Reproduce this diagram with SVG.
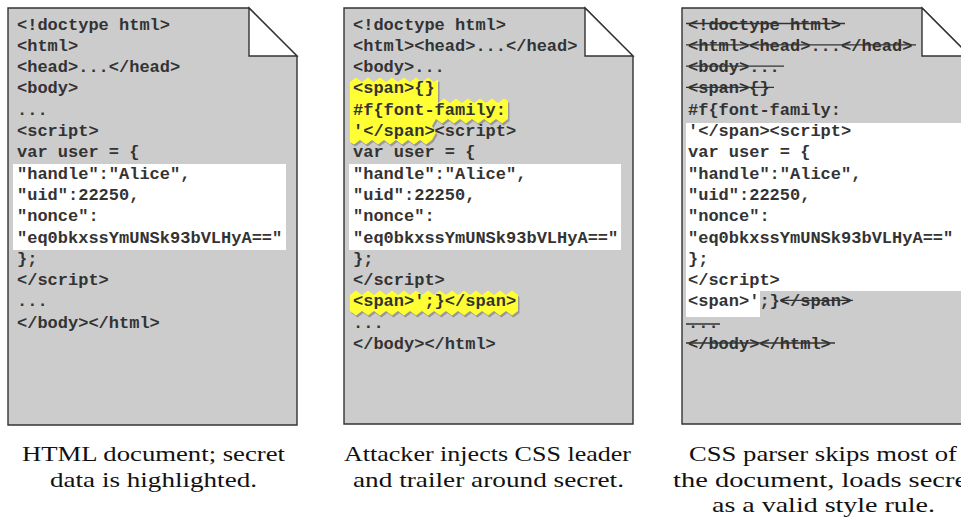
<svg xmlns="http://www.w3.org/2000/svg" width="961" height="520" viewBox="0 0 961 520">
<style>
.page{fill:#cccccc;stroke:#333;stroke-width:1.4}
.fold{fill:#ffffff;stroke:#333;stroke-width:1.4;stroke-linejoin:miter}
.code{font-family:"Liberation Mono","Courier New",monospace;font-weight:bold;font-size:17px;fill:#333}
.sec{fill:#ffffff}
.hl{fill:#ffff33}
.sh{fill:#999999}
.strike{stroke:#333;stroke-width:1.3}
.cap{font-family:"Liberation Serif","Times New Roman",serif;font-size:21px;fill:#111;text-anchor:middle}
</style>
<defs>
<path id="hlA" d="M350,82 L356,77.5 L362,82 L368,77.5 L374,82 L380,77.5 L386,82 L392,77.5 L398,82 L404,77.5 L410,82 L416,77.5 L422,82 L428,77.5 L434,82 L438,79.5 L438,103 L444,98.5 L450,103 L456,98.5 L462,103 L468,98.5 L474,103 L480,98.5 L486,103 L492,98.5 L498,103 L504,98.5 L508,101 L508,119 L502,123.5 L496,119 L490,123.5 L484,119 L478,123.5 L472,119 L466,123.5 L460,119 L454,123.5 L448,119 L442,123.5 L436,119 L432,126 L436,133 L432,140 L426,144.5 L420,140 L414,144.5 L408,140 L402,144.5 L396,140 L390,144.5 L384,140 L378,144.5 L372,140 L366,144.5 L360,140 L354,144.5 L350,142 Z"/>
<path id="hlB" d="M350,295 L356,290.5 L362,295 L368,290.5 L374,295 L380,290.5 L386,295 L392,290.5 L398,295 L404,290.5 L410,295 L416,290.5 L422,295 L428,290.5 L434,295 L440,290.5 L446,295 L452,290.5 L458,295 L464,290.5 L470,295 L476,290.5 L482,295 L488,290.5 L494,295 L500,290.5 L506,295 L512,290.5 L518,295 L518,311 L512,315.5 L506,311 L500,315.5 L494,311 L488,315.5 L482,311 L476,315.5 L470,311 L464,315.5 L458,311 L452,315.5 L446,311 L440,315.5 L434,311 L428,315.5 L422,311 L416,315.5 L410,311 L404,315.5 L398,311 L392,315.5 L386,311 L380,315.5 L374,311 L368,315.5 L362,311 L356,315.5 L350,311 Z"/>
</defs>
<rect width="961" height="520" fill="#ffffff"/>

<g id="doc1">
<path class="page" d="M8,8 H249 L297,56 V425 H8 Z"/>
<path class="fold" d="M249,8 V56 H297 Z"/>
<rect class="sec" x="13" y="164" width="273" height="86"/>
<g class="code">
<text x="17" y="29.5">&lt;!doctype html&gt;</text>
<text x="17" y="50.8">&lt;html&gt;</text>
<text x="17" y="72.1">&lt;head&gt;...&lt;/head&gt;</text>
<text x="17" y="93.4">&lt;body&gt;</text>
<text x="17" y="114.7">...</text>
<text x="17" y="136">&lt;script&gt;</text>
<text x="17" y="157.3">var user = {</text>
<text x="17" y="178.6">"handle":"Alice",</text>
<text x="17" y="199.9">"uid":22250,</text>
<text x="17" y="221.2">"nonce":</text>
<text x="17" y="242.5">"eq0bkxssYmUNSk93bVLHyA=="</text>
<text x="17" y="263.8">};</text>
<text x="17" y="285.1">&lt;/script&gt;</text>
<text x="17" y="306.4">...</text>
<text x="17" y="327.7">&lt;/body&gt;&lt;/html&gt;</text>
</g>
<text class="cap" x="153.5" y="461" textLength="263" lengthAdjust="spacingAndGlyphs">HTML document; secret</text>
<text class="cap" x="153.5" y="487" textLength="207" lengthAdjust="spacingAndGlyphs">data is highlighted.</text>
</g>

<g id="doc2">
<path class="page" d="M344,8 H585 L633,56 V424 H344 Z"/>
<path class="fold" d="M585,8 V56 H633 Z"/>
<rect class="sec" x="349" y="164" width="272" height="86"/>
<use href="#hlA" class="sh" transform="translate(1.5,2)"/>
<use href="#hlA" class="hl"/>
<use href="#hlB" class="sh" transform="translate(1.5,2)"/>
<use href="#hlB" class="hl"/>
<g class="code">
<text x="353" y="29.5">&lt;!doctype html&gt;</text>
<text x="353" y="50.8">&lt;html&gt;&lt;head&gt;...&lt;/head&gt;</text>
<text x="353" y="72.1">&lt;body&gt;...</text>
<text x="353" y="93.4">&lt;span&gt;{}</text>
<text x="353" y="114.7">#f{font-family:</text>
<text x="353" y="136">'&lt;/span&gt;&lt;script&gt;</text>
<text x="353" y="157.3">var user = {</text>
<text x="353" y="178.6">"handle":"Alice",</text>
<text x="353" y="199.9">"uid":22250,</text>
<text x="353" y="221.2">"nonce":</text>
<text x="353" y="242.5">"eq0bkxssYmUNSk93bVLHyA=="</text>
<text x="353" y="263.8">};</text>
<text x="353" y="285.1">&lt;/script&gt;</text>
<text x="353" y="306.4">&lt;span&gt;';}&lt;/span&gt;</text>
<text x="353" y="327.7">...</text>
<text x="353" y="349">&lt;/body&gt;&lt;/html&gt;</text>
</g>
<text class="cap" x="487.5" y="461" textLength="287" lengthAdjust="spacingAndGlyphs">Attacker injects CSS leader</text>
<text class="cap" x="488.5" y="487" textLength="271" lengthAdjust="spacingAndGlyphs">and trailer around secret.</text>
</g>

<g id="doc3">
<path class="page" d="M682,8 H922 L970,56 V424 H682 Z"/>
<path class="fold" d="M922,8 V56 H970 Z"/>
<path class="sec" d="M686,123 H975 V291 H760 V317 H686 Z"/>
<g class="code">
<text x="688" y="29.5">&lt;!doctype html&gt;</text>
<text x="688" y="50.8">&lt;html&gt;&lt;head&gt;...&lt;/head&gt;</text>
<text x="688" y="72.1">&lt;body&gt;...</text>
<text x="688" y="93.4">&lt;span&gt;{}</text>
<text x="688" y="114.7">#f{font-family:</text>
<text x="688" y="136">'&lt;/span&gt;&lt;script&gt;</text>
<text x="688" y="157.3">var user = {</text>
<text x="688" y="178.6">"handle":"Alice",</text>
<text x="688" y="199.9">"uid":22250,</text>
<text x="688" y="221.2">"nonce":</text>
<text x="688" y="242.5">"eq0bkxssYmUNSk93bVLHyA=="</text>
<text x="688" y="263.8">};</text>
<text x="688" y="285.1">&lt;/script&gt;</text>
<text x="688" y="306.4">&lt;span&gt;';}&lt;/span&gt;</text>
<text x="688" y="327.7">...</text>
<text x="688" y="349">&lt;/body&gt;&lt;/html&gt;</text>
</g>
<g class="strike">
<line x1="686" y1="23.5" x2="845" y2="23.5"/>
<line x1="686" y1="44.8" x2="916" y2="44.8"/>
<line x1="686" y1="66.1" x2="784" y2="66.1"/>
<line x1="686" y1="87.4" x2="774" y2="87.4"/>
<line x1="780" y1="300.4" x2="853" y2="300.4"/>
<line x1="686" y1="324" x2="720" y2="324"/>
<line x1="686" y1="343" x2="835" y2="343"/>
</g>
<text class="cap" x="823" y="461" textLength="268" lengthAdjust="spacingAndGlyphs">CSS parser skips most of</text>
<text class="cap" x="824" y="487" textLength="302" lengthAdjust="spacingAndGlyphs">the document, loads secret</text>
<text class="cap" x="823.5" y="512" textLength="223" lengthAdjust="spacingAndGlyphs">as a valid style rule.</text>
</g>

<g id="connectors"></g>
</svg>
